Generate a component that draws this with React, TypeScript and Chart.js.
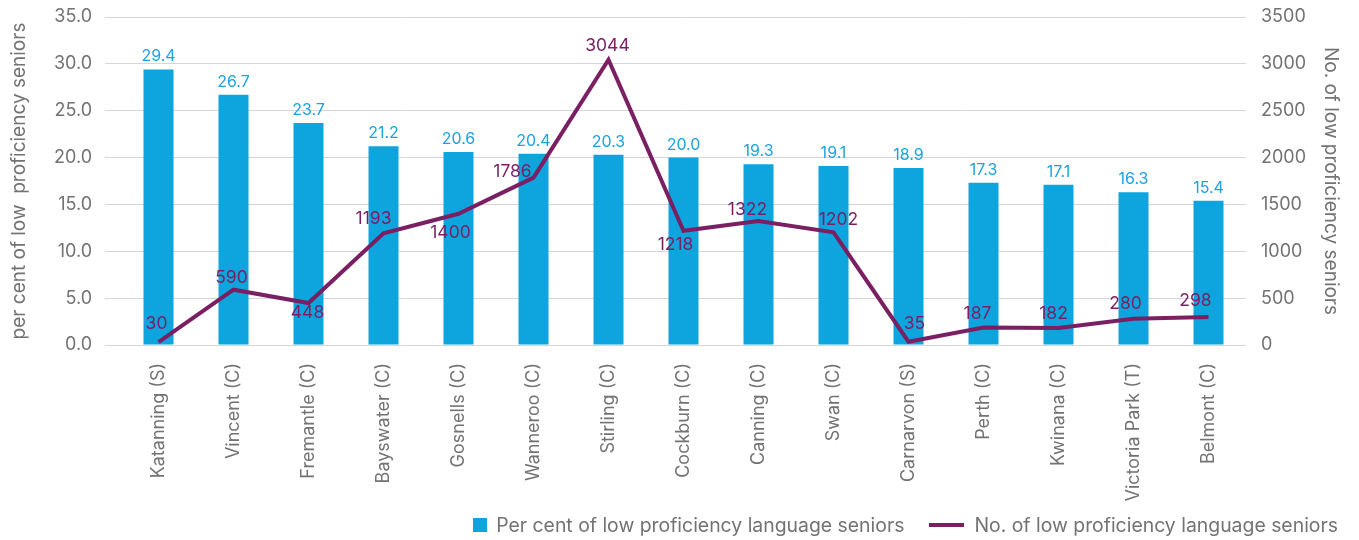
import React, { useEffect, useRef } from "react";
import { Chart, registerables } from "chart.js";

Chart.register(...registerables);

const CATEGORIES = [
  "Katanning (S)",
  "Vincent (C)",
  "Fremantle (C)",
  "Bayswater (C)",
  "Gosnells (C)",
  "Wanneroo (C)",
  "Stirling (C)",
  "Cockburn (C)",
  "Canning (C)",
  "Swan (C)",
  "Carnarvon (S)",
  "Perth (C)",
  "Kwinana (C)",
  "Victoria Park (T)",
  "Belmont (C)",
];

const PERCENT_SENIORS = [29.4, 26.7, 23.7, 21.2, 20.6, 20.4, 20.3, 20.0, 19.3, 19.1, 18.9, 17.3, 17.1, 16.3, 15.4];
const COUNT_SENIORS = [30, 590, 448, 1193, 1400, 1786, 3044, 1218, 1322, 1202, 35, 187, 182, 280, 298];

const SERIES_NAMES = ["Per cent of low proficiency language seniors", "No. of low proficiency language seniors"];
const LEFT_AXIS_TITLE = "per cent of low  proficiency seniors";
const RIGHT_AXIS_TITLE = "No. of low proficiency seniors";

const FONT = "Inter, sans-serif";
const BLUE = "#0ea5de";
const BLUE_TEXT = "#1aa3e0";
const PURPLE = "#7b1f63";
const GRAY_TEXT = "#737373";
const GRID = "#d6d6d6";

// label offsets (dx, dy) relative to each line point
const LINE_LABEL_OFFSETS: [number, number][] = [
  [-2, -18], [-2, -12], [-1, 10], [-10, -14], [-8, 19], [-21, -6], [-1, -14],
  [-8, 14], [-11, -11], [5, -13], [6, -18], [-6, -14], [-5, -14], [-8, -15], [-13, -16],
];

const valueLabels = {
  id: "valueLabels",
  afterDatasetsDraw(chart: any) {
    const ctx = chart.ctx;
    ctx.save();
    const barMeta = chart.getDatasetMeta(0);
    ctx.font = `16px ${FONT}`;
    ctx.fillStyle = BLUE_TEXT;
    ctx.textAlign = "center";
    ctx.textBaseline = "alphabetic";
    barMeta.data.forEach((el: any, i: number) => {
      ctx.fillText(PERCENT_SENIORS[i].toFixed(1), el.x, el.y - 8);
    });
    const lineMeta = chart.getDatasetMeta(1);
    ctx.font = `17.5px ${FONT}`;
    ctx.fillStyle = PURPLE;
    ctx.textBaseline = "middle";
    lineMeta.data.forEach((el: any, i: number) => {
      const [dx, dy] = LINE_LABEL_OFFSETS[i];
      ctx.fillText(String(COUNT_SENIORS[i]), el.x + dx, el.y + dy);
    });
    ctx.restore();
  },
};

export default function App() {
  const canvasRef = useRef<HTMLCanvasElement | null>(null);

  useEffect(() => {
    if (!canvasRef.current) return;
    const chart = new Chart(canvasRef.current, {
      type: "bar",
      data: {
        labels: CATEGORIES,
        datasets: [
          {
            type: "bar",
            label: SERIES_NAMES[0],
            data: PERCENT_SENIORS,
            backgroundColor: BLUE,
            borderWidth: 0,
            barPercentage: 0.4,
            categoryPercentage: 1,
            yAxisID: "y",
            order: 2,
          },
          {
            type: "line",
            label: SERIES_NAMES[1],
            data: COUNT_SENIORS,
            borderColor: PURPLE,
            backgroundColor: PURPLE,
            borderWidth: 4,
            pointRadius: 0,
            tension: 0,
            yAxisID: "y1",
            order: 1,
          },
        ],
      },
      options: {
        responsive: true,
        maintainAspectRatio: false,
        animation: false,
        layout: { padding: { top: 9, right: 9, bottom: 25, left: 0 } },
        plugins: {
          legend: { display: false },
          tooltip: { enabled: false },
        },
        scales: {
          x: {
            grid: { display: false },
            border: { display: false },
            ticks: {
              minRotation: 90,
              maxRotation: 90,
              padding: 10,
              color: GRAY_TEXT,
              font: { family: FONT, size: 18 },
              autoSkip: false,
            },
            afterFit: (scale: any) => {
              scale.height = 162;
            },
          },
          y: {
            position: "left",
            min: 0,
            max: 35,
            border: { display: false },
            grid: { color: GRID, tickColor: GRID, tickLength: 16, lineWidth: 1 },
            ticks: {
              stepSize: 5,
              padding: 13,
              color: GRAY_TEXT,
              font: { family: FONT, size: 18 },
              callback: (v: any) => Number(v).toFixed(1),
            },
            title: {
              display: true,
              text: LEFT_AXIS_TITLE,
              color: GRAY_TEXT,
              font: { family: FONT, size: 19 },
              padding: 0,
            },
            afterFit: (scale: any) => {
              scale.width = 113;
              scale.paddingTop = 0;
              scale.paddingBottom = 0;
            },
          },
          y1: {
            position: "right",
            min: 0,
            max: 3500,
            border: { display: false },
            grid: { display: false },
            ticks: {
              stepSize: 500,
              padding: 7,
              color: GRAY_TEXT,
              font: { family: FONT, size: 18 },
              callback: (v: any) => String(v),
            },
            title: {
              display: true,
              text: RIGHT_AXIS_TITLE,
              color: GRAY_TEXT,
              font: { family: FONT, size: 19 },
              padding: 0,
            },
            afterFit: (scale: any) => {
              scale.width = 96;
              scale.paddingTop = 0;
              scale.paddingBottom = 0;
            },
          },
        },
      },
      plugins: [valueLabels],
    });
    return () => chart.destroy();
  }, []);

  return (
    <div style={{ position: "relative", width: 1343, height: 532 }}>
      <div style={{ position: "relative", width: 1343, height: 524 }}>
        <canvas ref={canvasRef} />
      </div>
      <div
        style={{
          position: "absolute",
          right: 13,
          top: 506,
          height: 22,
          display: "flex",
          alignItems: "center",
          fontFamily: FONT,
          fontSize: 19.4,
          color: GRAY_TEXT,
          whiteSpace: "nowrap",
          lineHeight: "22px",
        }}
      >
        <span style={{ display: "inline-block", width: 14, height: 14, background: BLUE, marginRight: 9 }} />
        <span>{SERIES_NAMES[0]}</span>
        <span style={{ display: "inline-block", width: 35, height: 4, background: PURPLE, marginLeft: 25, marginRight: 10 }} />
        <span>{SERIES_NAMES[1]}</span>
      </div>
    </div>
  );
}
